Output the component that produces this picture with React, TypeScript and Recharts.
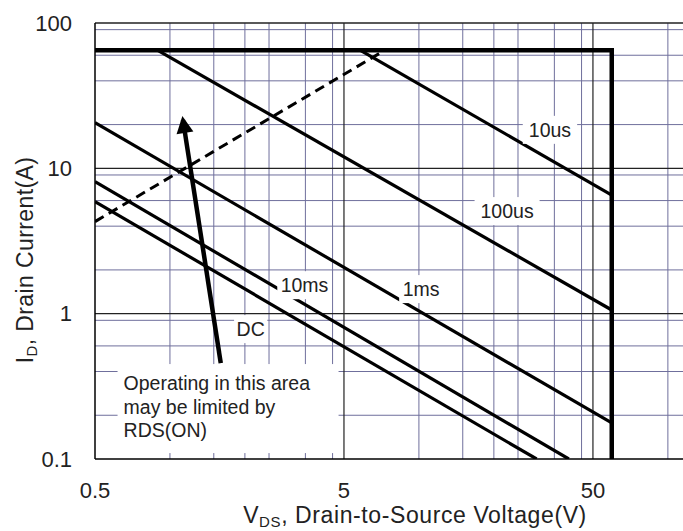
import { LineChart, Line, XAxis, YAxis, CartesianGrid, ReferenceLine, Label } from "recharts";

const FONT = '"Liberation Sans", Arial, Helvetica, sans-serif';

// axis ticks
const xTicks = [0.5, 5, 50];
const yTicks = [0.1, 1, 10, 100];

// log paper grid
const xMinor = [1, 1.5, 2, 2.5, 3, 3.5, 4, 4.5, 10, 15, 20, 25, 30, 35, 40, 45, 100];
const xMajor = [5, 50];
const yMinor = [0.2, 0.3, 0.4, 0.5, 0.6, 0.7, 0.8, 0.9, 2, 3, 4, 5, 6, 7, 8, 9, 20, 30, 40, 50, 60, 70, 80, 90];
const yMajor = [1, 10, 100];

// safe operating area curves (V_DS, I_D)
const limit = [{ v: 0.5, i: 65 }, { v: 59.5, i: 65 }, { v: 59.5, i: 0.1 }];
const rdsOn = [{ v: 0.5, i: 4.3 }, { v: 7.3, i: 65 }];
const us10 = [{ v: 5.8, i: 65 }, { v: 59.5, i: 6.55 }];
const us100 = [{ v: 0.89, i: 65 }, { v: 59.5, i: 1.06 }];
const ms1 = [{ v: 0.5, i: 20.6 }, { v: 59.5, i: 0.177 }];
const ms10 = [{ v: 0.5, i: 8.1 }, { v: 40, i: 0.1 }];
const dc = [{ v: 0.5, i: 5.9 }, { v: 29.7, i: 0.1 }];
const arrow = [{ v: 1.6, i: 0.457 }, { v: 1.128, i: 21.5 }];

const curveLabels = [
  { v: 33.6, i: 18.4, text: "10us" },
  { v: 22.6, i: 5.08, text: "100us" },
  { v: 10.2, i: 1.476, text: "1ms" },
  { v: 3.47, i: 1.57, text: "10ms" },
  { v: 2.11, i: 0.783, text: "DC" },
];
const noteAnchor = [{ v: 0.616, i: 0.45 }];
const noteLines = ["Operating in this area", "may be limited by", "RDS(ON)"];

const ArrowHead = (props: any) => {
  const { cx, cy, index, points } = props;
  if (!points || index !== points.length - 1) return <g key={"a" + index} />;
  const prev = points[index - 1];
  const ang = Math.atan2(cy - prev.y, cx - prev.x);
  const ux = Math.cos(ang), uy = Math.sin(ang);
  const tx = cx + ux * 4, ty = cy + uy * 4;
  const bx = tx - ux * 17, by = ty - uy * 17;
  const hw = 8.5;
  const pts = `${tx},${ty} ${bx - uy * hw},${by + ux * hw} ${bx + uy * hw},${by - ux * hw}`;
  return <polygon key={"a" + index} points={pts} fill="#000" />;
};

const BoxLabel = (props: any) => {
  const { cx, cy, payload, index } = props;
  const w = payload.text.length * 10.6 + 12;
  const h = 28;
  return (
    <g key={"l" + index}>
      <rect x={cx - w / 2} y={cy - h / 2} width={w} height={h} fill="#fff" />
      <text x={cx} y={cy + 7} textAnchor="middle" fontSize={19.5} fill="#222" fontFamily={FONT}>
        {payload.text}
      </text>
    </g>
  );
};

const NoteBox = (props: any) => {
  const { cx, cy, index } = props;
  return (
    <g key={"n" + index}>
      <rect x={cx} y={cy} width={221} height={89} fill="#fff" />
      {noteLines.map((t, k) => (
        <text key={k} x={cx + 6} y={cy + 26 + k * 23.5} fontSize={19.5} fill="#222" fontFamily={FONT}>
          {t}
        </text>
      ))}
    </g>
  );
};

const XTitle = (props: any) => {
  const vb = props.viewBox;
  return (
    <text x={vb.x + vb.width / 2 + 26} y={vb.y + 64} textAnchor="middle" fontSize={23} letterSpacing={0.6} fill="#222" fontFamily={FONT}>
      V<tspan fontSize={15} dy={4}>DS</tspan>
      <tspan dy={-4}>, Drain-to-Source Voltage(V)</tspan>
    </text>
  );
};

const YTitle = (props: any) => {
  const vb = props.viewBox;
  const x = 33;
  const y = vb.y + vb.height / 2 + 19;
  return (
    <text x={x} y={y} transform={`rotate(-90, ${x}, ${y})`} textAnchor="middle" fontSize={23} letterSpacing={0.4} fill="#222" fontFamily={FONT}>
      I<tspan fontSize={15} dy={4}>D</tspan>
      <tspan dy={-4}>, Drain Current(A)</tspan>
    </text>
  );
};

export default function App() {
  return (
    <div style={{ position: "absolute", left: 0, top: 0, width: 683, height: 531, background: "#fff" }}>
      <LineChart width={683} height={531} margin={{ top: 23, right: 0, bottom: 0, left: 0 }}>
        <CartesianGrid horizontalValues={yMinor} verticalValues={xMinor} stroke="#6f6f9c" strokeWidth={1} />
        <XAxis
          dataKey="v"
          type="number"
          scale="log"
          domain={[0.5, 115]}
          allowDataOverflow
          ticks={xTicks}
          height={72}
          tickLine={false}
          tickSize={0}
          tickMargin={23}
          axisLine={{ stroke: "#000", strokeWidth: 1.5 }}
          tick={{ fontSize: 22, fill: "#222", fontFamily: FONT }}
        >
          <Label content={XTitle} />
        </XAxis>
        <YAxis
          dataKey="i"
          type="number"
          scale="log"
          domain={[0.1, 100]}
          allowDataOverflow
          ticks={yTicks}
          width={95}
          tickLine={false}
          tickSize={0}
          tickMargin={23}
          axisLine={{ stroke: "#000", strokeWidth: 1.5 }}
          tick={{ fontSize: 22, fill: "#222", fontFamily: FONT }}
        >
          <Label content={YTitle} />
        </YAxis>
        {xMajor.map((v) => (
          <ReferenceLine key={"x" + v} x={v} stroke="#222" strokeWidth={1.2} />
        ))}
        {yMajor.map((v) => (
          <ReferenceLine key={"y" + v} y={v} stroke="#222" strokeWidth={1.3} />
        ))}
        <Line data={limit} dataKey="i" type="linear" stroke="#000" strokeWidth={4.5} dot={false} activeDot={false} isAnimationActive={false} />
        <Line data={rdsOn} dataKey="i" type="linear" stroke="#000" strokeWidth={3} strokeDasharray="10 6" dot={false} activeDot={false} isAnimationActive={false} />
        <Line data={us10} dataKey="i" type="linear" stroke="#000" strokeWidth={3.2} dot={false} activeDot={false} isAnimationActive={false} />
        <Line data={us100} dataKey="i" type="linear" stroke="#000" strokeWidth={3.2} dot={false} activeDot={false} isAnimationActive={false} />
        <Line data={ms1} dataKey="i" type="linear" stroke="#000" strokeWidth={3.2} dot={false} activeDot={false} isAnimationActive={false} />
        <Line data={ms10} dataKey="i" type="linear" stroke="#000" strokeWidth={3.2} dot={false} activeDot={false} isAnimationActive={false} />
        <Line data={dc} dataKey="i" type="linear" stroke="#000" strokeWidth={3.2} dot={false} activeDot={false} isAnimationActive={false} />
        <Line data={curveLabels} dataKey="i" stroke="none" dot={BoxLabel} activeDot={false} isAnimationActive={false} />
        <Line data={noteAnchor} dataKey="i" stroke="none" dot={NoteBox} activeDot={false} isAnimationActive={false} />
        <Line data={arrow} dataKey="i" type="linear" stroke="#000" strokeWidth={4.5} dot={ArrowHead} activeDot={false} isAnimationActive={false} />
      </LineChart>
    </div>
  );
}
